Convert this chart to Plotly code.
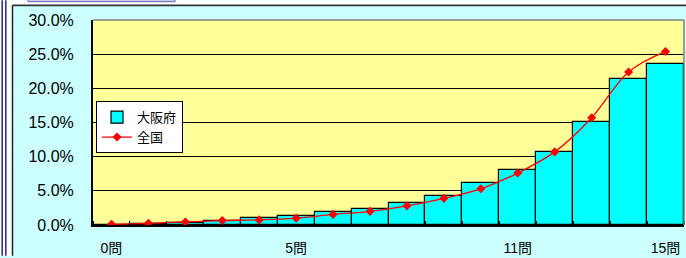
import plotly.graph_objects as go

categories = list(range(16))
tick_vals = [0, 5, 11, 15]
tick_text = ["0問", "5問", "11問", "15問"]
osaka = [0.05, 0.15, 0.35, 0.6, 1.0, 1.3, 1.85, 2.4, 3.25, 4.3, 6.2, 8.0, 10.7, 15.1, 21.3, 23.5]
zenkoku = [0.1, 0.25, 0.45, 0.65, 0.75, 1.0, 1.55, 2.0, 2.8, 3.9, 5.3, 7.6, 10.7, 15.7, 22.4, 25.4]

FONT = "Liberation Sans, Arial, Noto Sans CJK JP"
W, H = 686, 258
L, R, T, B = 93, 2, 20, 31
PW, PH = W - L - R, H - T - B

def px(x):
    return (x - L) / PW

def py(y):
    return (H - B - y) / PH

fig = go.Figure()
fig.add_trace(go.Bar(
    x=categories, y=osaka, name="大阪府", width=1.0,
    marker=dict(color="#00FFFF", line=dict(color="#000000", width=1.2)),
))
fig.add_trace(go.Scatter(
    x=categories, y=zenkoku, name="全国", mode="lines+markers",
    line=dict(color="#FF0000", width=1.3, shape="spline"),
    marker=dict(symbol="diamond", size=7, color="#FF0000"),
))

shapes = [
    dict(type="rect", xref="paper", yref="paper", x0=px(0), x1=px(12), y0=py(H), y1=py(0),
         fillcolor="white", line=dict(width=0), layer="above"),
    dict(type="rect", xref="paper", yref="paper", x0=px(0), x1=px(W), y0=py(5), y1=py(0),
         fillcolor="white", line=dict(width=0), layer="above"),
    dict(type="rect", xref="paper", yref="paper", x0=px(28), x1=px(175), y0=py(1.5), y1=py(-5),
         fillcolor="#CCCCF5", line=dict(color="#6666AA", width=1), layer="above"),
    dict(type="line", xref="paper", yref="paper", x0=px(2.2), x1=px(2.2), y0=py(H), y1=py(0),
         line=dict(color="#333399", width=1.6), layer="above"),
    dict(type="line", xref="paper", yref="paper", x0=px(5.8), x1=px(5.8), y0=py(H), y1=py(0),
         line=dict(color="#333399", width=1.6), layer="above"),
    dict(type="line", xref="paper", yref="paper", x0=px(12.5), x1=px(12.5), y0=py(H), y1=py(5),
         line=dict(color="#222222", width=1.5), layer="above"),
    dict(type="line", xref="paper", yref="paper", x0=px(12.5), x1=px(W), y0=py(5.3), y1=py(5.3),
         line=dict(color="#333333", width=1.8), layer="above"),
    dict(type="line", xref="paper", yref="paper", x0=0, x1=1, y0=1, y1=1,
         line=dict(color="#808080", width=1.5), layer="above"),
    dict(type="line", xref="paper", yref="paper", x0=1, x1=1, y0=0, y1=1,
         line=dict(color="#808080", width=1.5), layer="above"),
]

fig.update_layout(
    width=W, height=H,
    margin=dict(l=L, r=R, t=T, b=B, pad=0),
    paper_bgcolor="#CCFFFF",
    plot_bgcolor="#FFFF99",
    font=dict(family=FONT, color="#000000"),
    showlegend=True,
    legend=dict(x=px(96), y=py(102), xanchor="left", yanchor="top",
                bgcolor="white", bordercolor="#000000", borderwidth=1,
                font=dict(size=13, family=FONT), itemwidth=30,
                tracegroupgap=0),
    shapes=shapes,
    bargap=0,
)
fig.update_xaxes(
    range=[-0.5, 15.5], tickmode="array", tickvals=tick_vals, ticktext=tick_text,
    tickfont=dict(size=14, family=FONT), ticks="", showgrid=False,
    showline=True, linecolor="#000000", linewidth=2, zeroline=False,
    ticklabelstandoff=9,
    minor=dict(ticks="inside", tick0=0.5, dtick=1, ticklen=4, tickcolor="#000000", showgrid=False),
)
fig.update_yaxes(
    range=[0, 30], tickmode="array", tickvals=[0, 5, 10, 15, 20, 25, 30],
    ticktext=["0.0%", "5.0%", "10.0%", "15.0%", "20.0%", "25.0%", "30.0%"],
    tickfont=dict(size=16, family=FONT), ticks="",
    showgrid=True, gridcolor="#000000", gridwidth=1,
    showline=True, linecolor="#000000", linewidth=2, zeroline=False,
    ticklabelstandoff=14,
)

fig.write_html("out.html", config={"displayModeBar": False},
               post_script="document.body.style.margin='0';document.body.style.overflow='hidden';")
